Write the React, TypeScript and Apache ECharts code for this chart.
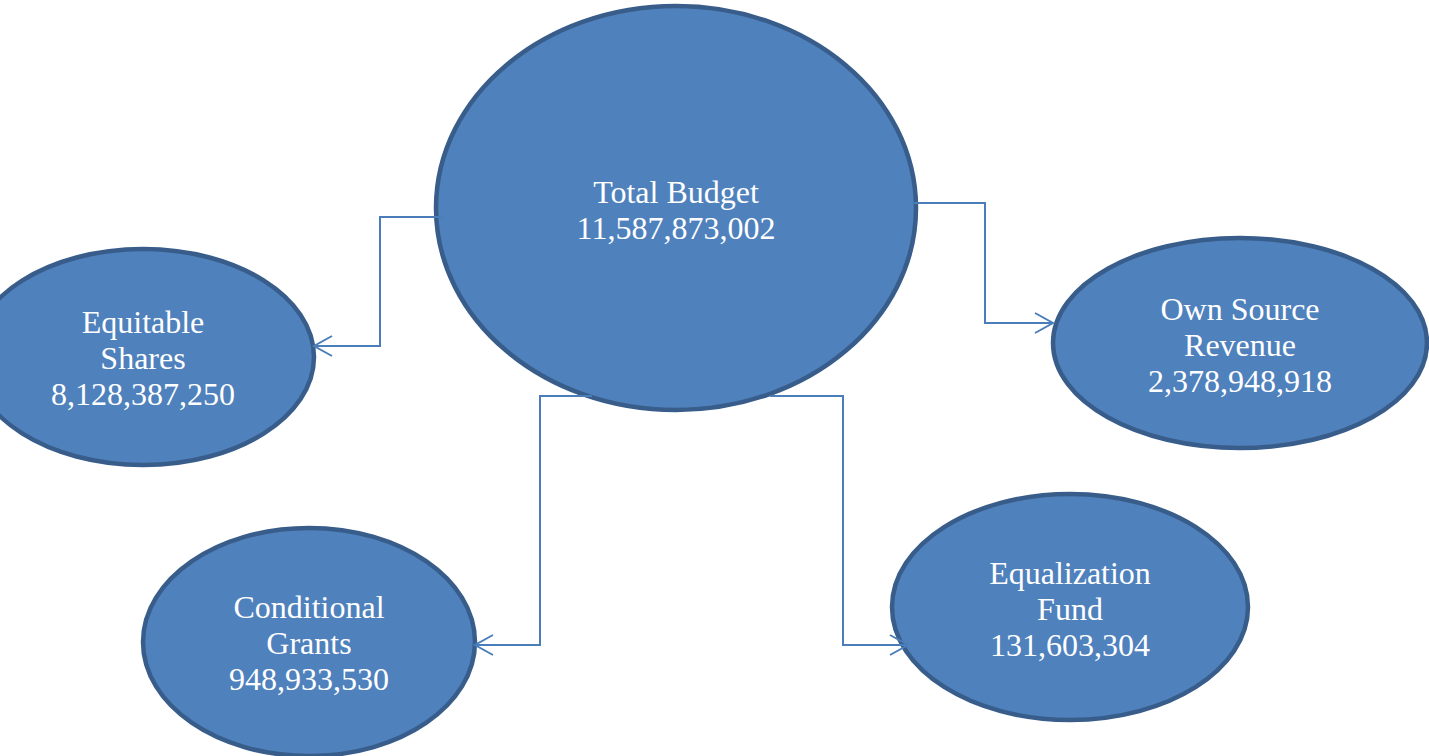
import React, { useEffect, useRef } from "react";
import * as echarts from "echarts";

// Node data
const nodeNames: string[][] = [
  ["Total Budget"],
  ["Equitable", "Shares"],
  ["Own Source", "Revenue"],
  ["Conditional", "Grants"],
  ["Equalization", "Fund"],
];
const nodeValues: number[] = [11587873002, 8128387250, 2378948918, 948933530, 131603304];

// Layout (pixels): ellipse centres and radii
const nodeCx = [676, 143, 1240, 309, 1070];
const nodeCy = [208, 357, 343, 642, 607];
const nodeRx = [240, 171, 187, 166, 178];
const nodeRy = [202, 108, 105, 114, 113];
const textTop = [192, 322, 309, 607, 573];

// Connectors: polyline points from total budget to each child (last point is arrow tip)
const connectors: number[][][] = [
  [[442, 217], [380, 217], [380, 346], [314, 346]],
  [[914, 203], [985, 203], [985, 323], [1053, 323]],
  [[592, 396], [540, 396], [540, 645], [475, 645]],
  [[770, 396], [843, 396], [843, 645], [908, 645]],
];

const fmt = (v: number) => v.toLocaleString("en-US");

export default function App() {
  const ref = useRef<HTMLDivElement>(null);
  useEffect(() => {
    if (!ref.current) return;
    const chart = echarts.init(ref.current, null, { renderer: "svg" });
    const elements: any[] = [];
    const lineColor = "#4A7EBB";
    nodeNames.forEach((lines, i) => {
      elements.push({
        type: "ellipse",
        shape: { cx: nodeCx[i], cy: nodeCy[i], rx: nodeRx[i], ry: nodeRy[i] },
        style: { fill: "#4F81BD", stroke: "#385D8A", lineWidth: 4.5 },
        z: 1,
      });
      const all = [...lines, fmt(nodeValues[i])];
      all.forEach((t, j) => {
        elements.push({
          type: "text",
          x: nodeCx[i],
          y: textTop[i] + j * 36,
          style: {
            text: t,
            fill: "#ffffff",
            font: "32px 'Liberation Serif', 'Times New Roman', serif",
            align: "center",
            verticalAlign: "middle",
          },
          z: 3,
        });
      });
    });
    connectors.forEach((pts) => {
      elements.push({
        type: "polyline",
        shape: { points: pts },
        style: { stroke: lineColor, lineWidth: 2, fill: null },
        z: 2,
      });
      const tip = pts[pts.length - 1];
      const prev = pts[pts.length - 2];
      const dir = Math.sign(tip[0] - prev[0]);
      elements.push({
        type: "polyline",
        shape: {
          points: [
            [tip[0] - dir * 18, tip[1] - 10],
            tip,
            [tip[0] - dir * 18, tip[1] + 10],
          ],
        },
        style: { stroke: lineColor, lineWidth: 2, fill: null },
        z: 2,
      });
    });
    chart.setOption({
      animation: false,
      backgroundColor: "#ffffff",
      graphic: { elements },
    });
    return () => chart.dispose();
  }, []);
  return (
    <div
      ref={ref}
      style={{ position: "fixed", left: 0, top: 0, width: 1429, height: 756 }}
    />
  );
}
